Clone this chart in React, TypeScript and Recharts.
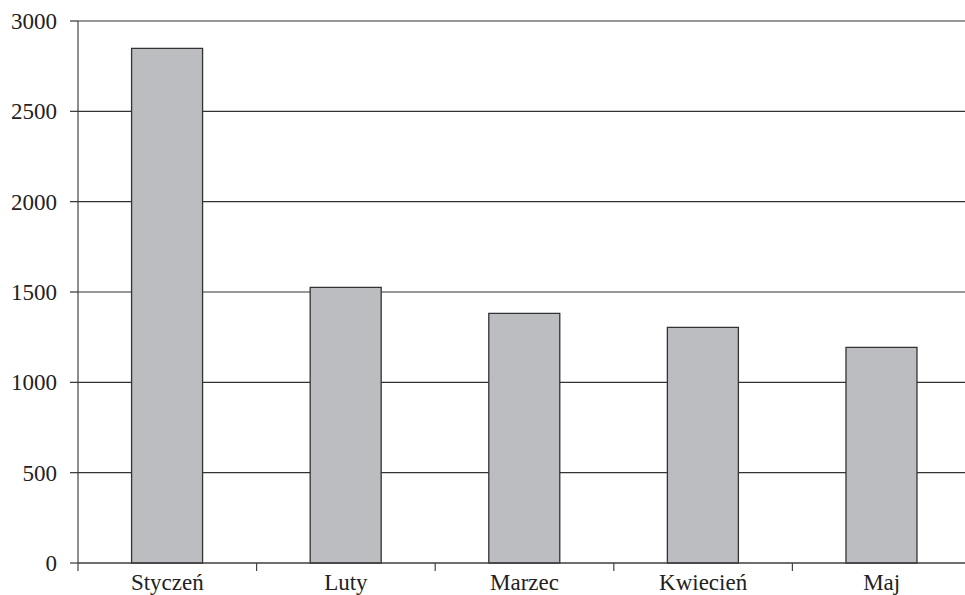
import React from "react";
import { BarChart, Bar, XAxis, YAxis, CartesianGrid } from "recharts";

const months = ["Styczeń", "Luty", "Marzec", "Kwiecień", "Maj"];
const values = [2848, 1526, 1382, 1304, 1193];
const yTicks = [0, 500, 1000, 1500, 2000, 2500, 3000];

const data = months.map((m, i) => ({ month: m, value: values[i] }));

const CHART_W = 980;
const CHART_H = 595;
const MARGIN = { top: 21, right: 9, bottom: 0, left: 0 };
const Y_W = 78;
const X_H = 32;
const BAND = (CHART_W - MARGIN.left - MARGIN.right - Y_W) / months.length;
const FONT = '"Times New Roman", "Liberation Serif", Tinos, "DejaVu Serif", "Noto Serif", serif';

const XTick = (props: any) => {
  const { x, y, payload, index } = props;
  const half = BAND / 2;
  return (
    <g>
      <line x1={x - half} x2={x - half} y1={y} y2={y + 8} stroke="#444" strokeWidth={1.2} />
      {index === months.length - 1 && (
        <line x1={x + half} x2={x + half} y1={y} y2={y + 8} stroke="#444" strokeWidth={1.2} />
      )}
      <text x={x} y={y + 27} textAnchor="middle" style={{ fontFamily: FONT }} fontSize={23} fill="#222">
        {payload.value}
      </text>
    </g>
  );
};

const YTick = (props: any) => {
  const { x, y, payload } = props;
  return (
    <text x={x} y={y} dy={8} textAnchor="end" style={{ fontFamily: FONT }} fontSize={23} fill="#222">
      {payload.value}
    </text>
  );
};

export default function App() {
  return (
    <div style={{ position: "absolute", left: 0, top: 0, width: 965, height: 595, overflow: "hidden", background: "#fff", fontFamily: FONT }}>
      <BarChart width={CHART_W} height={CHART_H} data={data} margin={MARGIN} barCategoryGap="30%">
        <CartesianGrid horizontal={true} vertical={false} stroke="#333" strokeWidth={1.2} />
        <XAxis
          dataKey="month"
          height={X_H}
          axisLine={{ stroke: "#444", strokeWidth: 1.2 }}
          tickLine={false}
          tickSize={0}
          tickMargin={0}
          tick={<XTick />}
          interval={0}
        />
        <YAxis
          width={Y_W}
          domain={[0, 3000]}
          ticks={yTicks}
          interval={0}
          axisLine={{ stroke: "#444", strokeWidth: 1.2 }}
          tickLine={{ stroke: "#333", strokeWidth: 1.2 }}
          tickSize={8}
          tickMargin={13}
          tick={<YTick />}
        />
        <Bar dataKey="value" fill="#bcbdc1" stroke="#333" strokeWidth={1.3} isAnimationActive={false} />
      </BarChart>
    </div>
  );
}
